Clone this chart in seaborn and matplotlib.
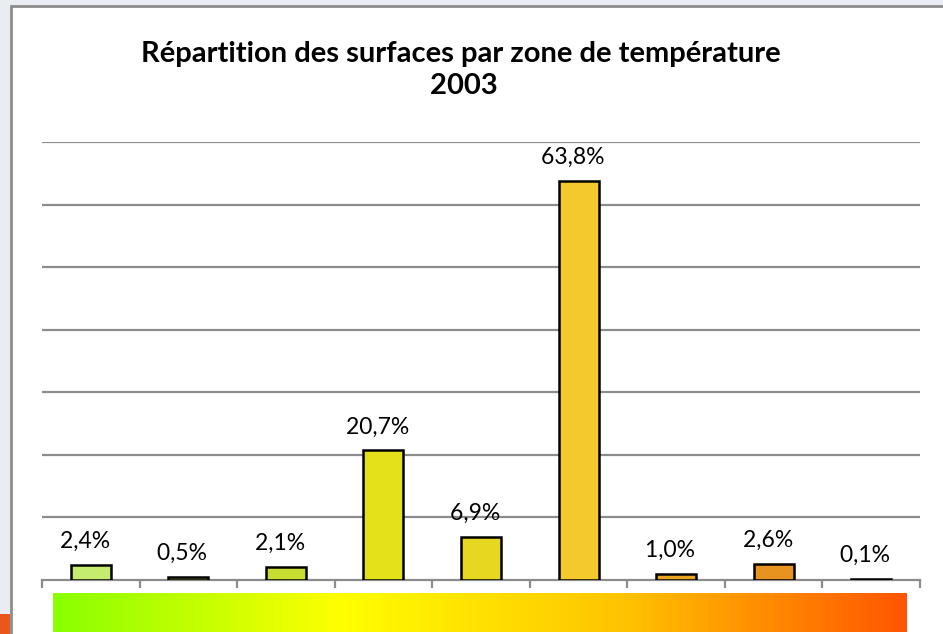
import numpy as np
import pandas as pd
import matplotlib
matplotlib.use("Agg")
import matplotlib.pyplot as plt
import seaborn as sns
from matplotlib.colors import LinearSegmentedColormap
from matplotlib.patches import Rectangle

# data
zones = ["Z1", "Z2", "Z3", "Z4", "Z5", "Z6", "Z7", "Z8", "Z9"]
shares = [2.4, 0.5, 2.1, 20.7, 6.9, 63.8, 1.0, 2.6, 0.1]
labels = ["2,4%", "0,5%", "2,1%", "20,7%", "6,9%", "63,8%", "1,0%", "2,6%", "0,1%"]
bar_colors = ["#C5EC6E", "#9DB52A", "#C8DC32", "#E4E01A", "#E8D71F",
              "#F3C92C", "#E8A620", "#E8921F", "#D0641A"]
title = "Répartition des surfaces par zone de température   \n2003  "

df = pd.DataFrame({"zone": zones, "share": shares})

sns.set_theme(style="white")
plt.rcParams["font.family"] = ["Lato", "DejaVu Sans"]

fig = plt.figure(figsize=(9.43, 6.34), dpi=100)
W, H = 943, 634
fig.patch.set_facecolor("#E9ECF0")

# white slide frame
fig.patches.append(Rectangle((11 / W, 0), 1, 1 - 6 / H, transform=fig.transFigure,
                             facecolor="white", edgecolor="none", zorder=-5))
fig.add_artist(plt.Line2D([11 / W, 11 / W], [0, 1 - 6 / H], transform=fig.transFigure,
                          color="#8C8C8C", lw=2, zorder=-4))
fig.add_artist(plt.Line2D([11 / W, 1], [1 - 6 / H, 1 - 6 / H], transform=fig.transFigure,
                          color="#8C8C8C", lw=2, zorder=-4))
fig.patches.append(Rectangle((0, 0), 10 / W, 20 / H, transform=fig.transFigure,
                             facecolor="#E8581A", edgecolor="none", zorder=-4))

ax = fig.add_axes([42 / W, (H - 580) / H, (920 - 42) / W, (580 - 142) / H])
ax.set_facecolor("none")
sns.barplot(data=df, x="zone", y="share", hue="zone", palette=bar_colors,
            legend=False, width=0.41, edgecolor="black", linewidth=1.8,
            saturation=1, ax=ax, zorder=3)
ax.set_ylim(0, 70)
ax.set_xlim(-0.5, len(zones) - 0.5)
ax.set_yticks(np.arange(10, 71, 10))
ax.yaxis.grid(True, color="#8C8C8C", lw=1.6)
ax.set_axisbelow(True)
ax.set_yticklabels([])
ax.tick_params(axis="y", length=0)
for s in ["left", "right", "top"]:
    ax.spines[s].set_visible(False)
ax.spines["bottom"].set_color("#8C8C8C")
ax.spines["bottom"].set_linewidth(1.6)
ax.set_xticks(np.arange(-0.5, len(zones)))
ax.set_xticklabels([])
ax.tick_params(axis="x", length=6, width=1.6, color="#8C8C8C", bottom=True, direction="out")
ax.set_xlabel("")
ax.set_ylabel("")

for i, (v, lab) in enumerate(zip(shares, labels)):
    ax.annotate(lab + "  ", (i, v), xytext=(0, 17), textcoords="offset points",
                ha="center", va="center", fontsize=16.5, color="black")

fig.text(0.5, 1 - 70 / H, title, ha="center", va="center", fontsize=21,
         fontweight="bold", linespacing=1.3, color="black")

# temperature gradient strip
gax = fig.add_axes([53 / W, (H - 632) / H, (907 - 53) / W, 39 / H])
cmap = LinearSegmentedColormap.from_list("temp", ["#88FF00", "#FFFF00", "#FFC400", "#FF5500"])
gax.imshow(np.linspace(0, 1, 256)[None, :], aspect="auto", cmap=cmap)
gax.set_axis_off()

fig.savefig("out.png", dpi=100)
